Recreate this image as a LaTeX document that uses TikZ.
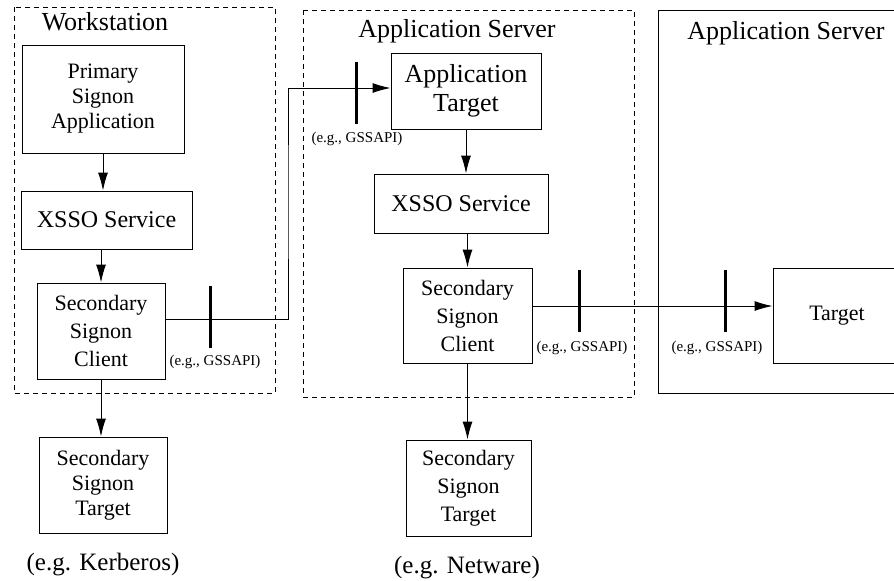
\documentclass[tikz,border=0pt]{standalone}
\usepackage{fontspec}
\setmainfont{Liberation Serif}
\usetikzlibrary{arrows.meta}
\tikzset{
  grp/.style={draw, dash pattern=on 2.5pt off 2pt, line width=0.5pt},
  host/.style={draw, line width=0.5pt},
  blk/.style={draw, line width=0.5pt, inner sep=0pt, align=center, font=\fontsize{11}{12.5}\selectfont},
  wide/.style={font=\fontsize{11}{14}\selectfont},
  svc/.style={font=\fontsize{12}{14}\selectfont},
  big/.style={font=\fontsize{13}{14.5}\selectfont},
  ttl/.style={font=\fontsize{13}{15}\selectfont},
  arr/.style={-{Latex[length=9pt,width=5pt]}, line width=0.5pt},
  bar/.style={fill=black, inner sep=0pt, minimum width=1.5pt, minimum height=31pt},
  gss/.style={font=\fontsize{7.5}{9}\selectfont, inner sep=0pt},
  note/.style={font=\fontsize{12.5}{14}\selectfont}
}
\begin{document}
\begin{tikzpicture}[x=0.5pt, y=-0.5pt]
  \useasboundingbox (0,0) rectangle (894,580);
  \clip (0,0) rectangle (894,580);

  % groups
  \draw[grp] (14,7) rectangle (275,393);
  \draw[grp] (303,10) rectangle (634,397);
  \draw[host] (658,10) rectangle (930,393);
  \node[ttl] (ws) at (105,22) {Workstation};
  \node[ttl] (srvA) at (457,31) {Application Server};
  \node[ttl] (srvB) at (786,33) {Application Server};

  % workstation
  \node[blk, minimum width=81pt, minimum height=54pt] (prim) at (103,99) {Primary\\Signon\\Application};
  \node[blk, svc, minimum width=85.5pt, minimum height=29pt] (xssoA) at (106.5,220) {XSSO Service};
  \node[blk, wide, minimum width=64pt, minimum height=48pt] (cliA) at (101,331) {Secondary\\Signon\\Client};
  \node[blk, minimum width=64pt, minimum height=48pt] (tgtA) at (103,485) {Secondary\\Signon\\Target};
  \node[note] (krb) at (103,565) {(e.g. Kerberos)};

  % application server
  \node[blk, big, minimum width=75pt, minimum height=38pt] (app) at (466,91) {Application\\Target};
  \node[blk, svc, minimum width=87pt, minimum height=29.5pt] (xssoB) at (461,203.5) {XSSO Service};
  \node[blk, wide, minimum width=64.5pt, minimum height=47.5pt] (cliB) at (467.5,315.5) {Secondary\\Signon\\Client};
  \node[blk, wide, minimum width=62.5pt, minimum height=48pt] (tgtB) at (468.5,488) {Secondary\\Signon\\Target};
  \node[note] (nw) at (467,568) {(e.g. Netware)};

  % far server
  \node[blk, minimum width=64pt, minimum height=47.5pt] (tgtC) at (837,315.5) {Target};

  % connectors
  \coordinate (jog) at (288,200);
  \draw[arr] (prim.south) -- (prim.south |- xssoA.north);
  \draw[arr] (xssoA.south -| cliA) -- (cliA.north);
  \draw[arr] (cliA.south) -- (cliA.south |- tgtA.north);
  \draw[arr] ([yshift=6pt]cliA.east) -| (jog) |- ([yshift=1.5pt]app.west);
  \draw[arr] (app.south) -- (app.south |- xssoB.north);
  \draw[arr] (xssoB.south -| cliB) -- (cliB.north);
  \draw[arr] (cliB.south) -- (cliB.south |- tgtB.north);
  \draw[arr] ([yshift=4.75pt]cliB.east) -- ([yshift=4.75pt]tgtC.west);

  % interface bars
  \foreach \n/\bx/\by/\lx/\ly in {a/210/316.5/215/362, b/356/93/357/139, c/579/301/582/348, d/725/301/717/348}{
    \node[bar] (bar\n) at (\bx,\by) {};
    \node[gss] (gss\n) at (\lx,\ly) {(e.g., GSSAPI)};
  }
\end{tikzpicture}
\end{document}
